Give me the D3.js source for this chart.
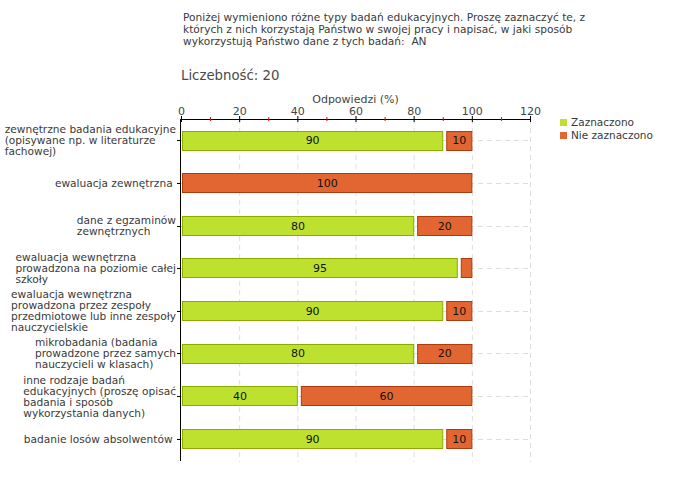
<!DOCTYPE html>
<html><head><meta charset="utf-8">
<script src="https://cdn.jsdelivr.net/npm/d3@7"></script>
<style>body{margin:0;background:#fff}svg{display:block}text{font-family:"DejaVu Sans",Verdana,sans-serif}</style>
</head><body>
<svg id="c" width="680" height="480"></svg>
<script>
const titleLines = [
  "Poniżej wymieniono różne typy badań edukacyjnych. Proszę zaznaczyć te, z",
  "których z nich korzystają Państwo w swojej pracy i napisać, w jaki sposób",
  "wykorzystują Państwo dane z tych badań:  AN"
];
const countLabel = "Liczebność: 20";
const axisTitle = "Odpowiedzi (%)";
const categories = [
  ["zewnętrzne badania edukacyjne", "(opisywane np. w literaturze", "fachowej)"],
  ["ewaluacja zewnętrzna "],
  ["dane z egzaminów", "zewnętrznych"],
  ["ewaluacja wewnętrzna", "prowadzona na poziomie całej", "szkoły"],
  ["ewaluacja wewnętrzna", "prowadzona przez zespoły", "przedmiotowe lub inne zespoły", "nauczycielskie"],
  ["mikrobadania (badania", "prowadzone przez samych", "nauczycieli w klasach)"],
  ["inne rodzaje badań", "edukacyjnych (proszę opisać", "badania i sposób", "wykorzystania danych)"],
  ["badanie losów absolwentów "]
];
const seriesNames = ["Zaznaczono", "Nie zaznaczono"];
const zaznaczono = [90, 0, 80, 95, 90, 80, 40, 90];
const nieZaznaczono = [10, 100, 20, 5, 10, 20, 60, 10];
const xTicks = [0, 20, 40, 60, 80, 100, 120];
const xMinorTicks = [10, 30, 50, 70, 90, 110];

const fills = ["#bee12f", "#e26631"];
const strokes = ["#8aab00", "#b03a0c"];

const svg = d3.select("#c");
const x = d3.scaleLinear().domain([0, 120]).range([181, 530]);
const ids = categories.map((d, i) => i);
const y = d3.scaleBand().domain(ids).range([119, 460]).paddingInner(0.54).paddingOuter(0.27);

// Title
svg.append("g").selectAll("text").data(titleLines).join("text")
  .attr("x", 183).attr("y", (d, i) => 21 + i * 12)
  .attr("font-size", 10.6).attr("fill", "#3a3a3a").attr("xml:space", "preserve").text(d => d);
svg.append("text").attr("x", 181).attr("y", 80).attr("font-size", 13.3).attr("fill", "#4a4a4a").text(countLabel);

// grid
const grid = svg.append("g");
grid.selectAll("line.v").data(xTicks.slice(1)).join("line")
  .attr("x1", d => x(d) + 0.5).attr("x2", d => x(d) + 0.5)
  .attr("y1", 119).attr("y2", 462)
  .attr("stroke", "#dedede").attr("stroke-dasharray", "5,4");
grid.selectAll("line.h").data(ids).join("line")
  .attr("x1", 181).attr("x2", 530)
  .attr("y1", d => Math.round(y(d) + y.bandwidth() / 2) + 0.5)
  .attr("y2", d => Math.round(y(d) + y.bandwidth() / 2) + 0.5)
  .attr("stroke", "#dedede").attr("stroke-dasharray", "5,4");

// Bars
const series = [zaznaczono, nieZaznaczono];
const segs = [];
ids.forEach(i => {
  let start = 0;
  series.forEach((s, k) => {
    const v = s[i];
    if (v > 0) segs.push({i, k, v, start, first: start === 0});
    start += v;
  });
});
const bars = svg.append("g");
bars.selectAll("rect").data(segs).join("rect")
  .attr("x", d => x(d.start) + (d.first ? 1.5 : 4))
  .attr("width", d => x(d.start + d.v) - x(d.start) - (d.first ? 1.5 : 4))
  .attr("y", d => Math.round(y(d.i)) + 0.5)
  .attr("height", Math.round(y.bandwidth()) - 1)
  .attr("fill", d => fills[d.k]).attr("stroke", d => strokes[d.k]).attr("stroke-width", 1);
bars.selectAll("text").data(segs.filter(d => d.v >= 10)).join("text")
  .attr("x", d => (x(d.start) + (d.first ? 1.5 : 4) + x(d.start + d.v)) / 2)
  .attr("y", d => y(d.i) + y.bandwidth() / 2 + 4)
  .attr("text-anchor", "middle").attr("font-size", 11).attr("fill", "#111")
  .text(d => d.v);

// Top axis
const ax = svg.append("g");
ax.append("line").attr("x1", 181).attr("x2", 531).attr("y1", 119.5).attr("y2", 119.5).attr("stroke", "#000");
ax.selectAll("line.mj").data(xTicks).join("line")
  .attr("x1", d => x(d) + 0.5).attr("x2", d => x(d) + 0.5).attr("y1", 116).attr("y2", 122)
  .attr("stroke", "#000");
ax.selectAll("line.mn").data(xMinorTicks).join("line")
  .attr("x1", d => x(d) + 0.5).attr("x2", d => x(d) + 0.5).attr("y1", 117).attr("y2", 121)
  .attr("stroke", "#e00");
ax.selectAll("text").data(xTicks).join("text")
  .attr("x", d => x(d) + 0.5).attr("y", 115).attr("text-anchor", "middle")
  .attr("font-size", 11).attr("fill", "#444").text(d => d);
svg.append("text").attr("x", x(60)).attr("y", 103).attr("text-anchor", "middle")
  .attr("font-size", 11).attr("fill", "#444").text(axisTitle);

// Left axis
svg.append("line").attr("x1", 180.5).attr("x2", 180.5).attr("y1", 119).attr("y2", 461).attr("stroke", "#000");
svg.append("g").selectAll("line").data(ids).join("line")
  .attr("x1", 177).attr("x2", 181)
  .attr("y1", d => Math.round(y(d) + y.bandwidth() / 2) + 0.5)
  .attr("y2", d => Math.round(y(d) + y.bandwidth() / 2) + 0.5)
  .attr("stroke", "#000");

// Category labels
const lh = 11;
const lab = svg.append("g");
ids.forEach(i => {
  const lines = categories[i];
  const cy = y(i) + y.bandwidth() / 2;
  const g = lab.append("g");
  const t = g.selectAll("text").data(lines).join("text")
    .attr("x", 0).attr("y", (d, j) => cy + 4 + (j - (lines.length - 1) / 2) * lh)
    .attr("font-size", 10.6).attr("fill", "#3a3a3a").attr("xml:space", "preserve").text(d => d);
  let w = 0;
  t.each(function() { w = Math.max(w, this.getComputedTextLength()); });
  g.attr("transform", `translate(${176 - w},0)`);
});

// Legend
const leg = svg.append("g");
seriesNames.forEach((n, k) => {
  leg.append("rect").attr("x", 560).attr("y", 119 + k * 13).attr("width", 7).attr("height", 7).attr("fill", fills[k]);
  leg.append("text").attr("x", 571).attr("y", 126 + k * 13).attr("font-size", 10.5).attr("fill", "#3a3a3a").text(n);
});
</script>
</body></html>
